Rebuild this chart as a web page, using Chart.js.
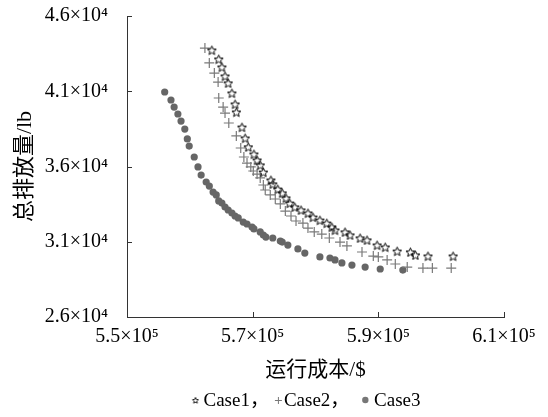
<!DOCTYPE html>
<html>
<head>
<meta charset="utf-8">
<script src="https://cdn.jsdelivr.net/npm/chart.js"></script>
<style>
  html, body { margin: 0; padding: 0; background: #fff; }
</style>
</head>
<body>
<canvas id="pareto_chart" width="548" height="417"></canvas>
<script>
// ---------------- data (运行成本 $, 总排放量 lb) ----------------
const seriesNames = ['Case1', 'Case2', 'Case3'];

const case1Cost = [563500, 564600, 565100, 565600, 566100, 566700, 567200, 567400, 568300, 568800,
    569300, 570200, 570700, 571200, 571700, 572900, 573200, 574000, 574700, 575300,
    575900, 576700, 577700, 578800, 579600, 580700, 581800, 582600, 583100, 584700,
    585500, 587100, 588200, 589800, 591100, 593000, 595100, 595900, 597900, 601900];
const case1Emission = [43740, 43140, 42610, 42010, 41550, 40880, 40150, 39620, 38620, 37890,
    37300, 36830, 36430, 36100, 35630, 35100, 34840, 34500, 34240, 33910,
    33570, 33310, 33110, 32910, 32640, 32440, 32240, 31980, 31780, 31650,
    31450, 31250, 31120, 30780, 30650, 30380, 30320, 30120, 30050, 30050];

const case2Cost = [562400, 563100, 563900, 564500, 564600, 565300, 565600, 566200, 567400, 568100,
    568600, 569100, 569700, 570100, 570700, 571200, 571700, 572000, 572800, 573600,
    574400, 575200, 576100, 576900, 578000, 578800, 579800, 581000, 582200, 583900,
    585000, 587400, 589200, 590000, 591400, 592700, 594600, 597100, 598600, 601600];
const case2Emission = [43870, 42880, 42210, 41610, 40550, 39950, 39550, 38890, 38030, 37230,
    36630, 36230, 35970, 35700, 35500, 35240, 34770, 34440, 34110, 33840,
    33510, 33040, 32710, 32380, 32240, 31910, 31650, 31510, 31250, 30980,
    30720, 30320, 30050, 29990, 29790, 29520, 29320, 29250, 29250, 29250];

const case3Cost = [556000, 557000, 557500, 558100, 558600, 559200, 559600, 559900, 560700, 561300,
    561800, 562600, 563100, 563700, 564200, 564600, 565100, 565600, 566100, 566700,
    567200, 567700, 568500, 569100, 569900, 570200, 571200, 571700, 572100, 573200,
    574400, 574700, 575600, 577200, 578300, 580700, 582300, 583100, 584200, 585800,
    587900, 590300, 593900];
const case3Emission = [40950, 40420, 39950, 39490, 39020, 38490, 37830, 37360, 36630, 35970,
    35430, 34970, 34700, 34300, 34110, 33710, 33570, 33310, 33110, 32910,
    32710, 32580, 32310, 32180, 31980, 31850, 31650, 31450, 31310, 31250,
    31050, 30980, 30780, 30520, 30250, 29990, 29920, 29790, 29590, 29450,
    29320, 29190, 29120];

const xTicks = [550000, 570000, 590000, 610000];
const yTicks = [26000, 31000, 36000, 41000, 46000];

const latinFont = '"Liberation Serif", "Noto Sans CJK SC", serif';

function toPoints(xs, ys) {
    return xs.map((v, i) => ({x: v, y: ys[i]}));
}

// hollow five-point star used as marker for Case1
function makeStar(size, color, lw) {
    const c = document.createElement('canvas');
    c.width = size;
    c.height = size;
    const g = c.getContext('2d');
    const ro = size / 2 - 0.8, ri = ro * 0.45;
    g.beginPath();
    for (let i = 0; i < 10; i++) {
        const r = i % 2 ? ri : ro;
        const a = -Math.PI / 2 + i * Math.PI / 5;
        g.lineTo(size / 2 + r * Math.cos(a), size / 2 + 0.6 + r * Math.sin(a));
    }
    g.closePath();
    g.strokeStyle = color;
    g.lineWidth = lw || 1;
    g.stroke();
    return c;
}

// ticks pointing into the plot
const inwardTicks = {
    id: 'inwardTicks',
    afterDatasetsDraw(chart) {
        const {ctx, scales: {x, y}} = chart;
        ctx.save();
        ctx.strokeStyle = '#333';
        ctx.lineWidth = 1;
        ctx.beginPath();
        x.ticks.forEach((t, i) => {
            const px = Math.round(x.getPixelForTick(i)) + 0.5;
            ctx.moveTo(px, x.top);
            ctx.lineTo(px, x.top - 5);
        });
        y.ticks.forEach((t, i) => {
            const py = Math.round(y.getPixelForTick(i)) + 0.5;
            ctx.moveTo(y.right, py);
            ctx.lineTo(y.right + 5, py);
        });
        ctx.stroke();
        ctx.restore();
    }
};

// one-line legend: ☆Case1，+Case2，● Case3
const legendLine = {
    id: 'legendLine',
    afterDraw(chart) {
        const ctx = chart.ctx;
        const area = chart.chartArea;
        ctx.save();
        ctx.font = '19px ' + latinFont;
        ctx.textBaseline = 'middle';
        const parts = [
            {mark: 'star', gap: 0}, {text: seriesNames[0] + '，', gap: 3},
            {mark: 'plus', gap: 4}, {text: seriesNames[1] + '，', gap: 1},
            {mark: 'dot', gap: 10}, {text: ' ' + seriesNames[2], gap: 0}
        ];
        const markW = 10;
        let total = 0;
        parts.forEach(p => {
            p.w = p.text ? ctx.measureText(p.text).width : markW;
            total += p.w + p.gap;
        });
        let cx = (area.left + area.right) / 2 - 10 - total / 2;
        const cy = chart.height - 17;
        parts.forEach(p => {
            cx += p.gap;
            if (p.text) {
                ctx.fillStyle = '#000';
                ctx.textAlign = 'left';
                ctx.fillText(p.text, cx, cy + 1);
            } else if (p.mark === 'star') {
                const s = makeStar(8, '#222');
                ctx.drawImage(s, cx + 1, cy - 4);
            } else if (p.mark === 'plus') {
                ctx.strokeStyle = '#777';
                ctx.lineWidth = 1;
                ctx.beginPath();
                ctx.moveTo(cx + 2, cy + 0.5); ctx.lineTo(cx + 9, cy + 0.5);
                ctx.moveTo(cx + 5.5, cy - 3); ctx.lineTo(cx + 5.5, cy + 4);
                ctx.stroke();
            } else {
                ctx.fillStyle = '#777';
                ctx.beginPath();
                ctx.arc(cx + 6, cy, 3.2, 0, Math.PI * 2);
                ctx.fill();
            }
            cx += p.w;
        });
        ctx.restore();
    }
};

const ctx = document.getElementById('pareto_chart');

new Chart(ctx, {
    type: 'scatter',
    data: {
        datasets: [{
            label: seriesNames[0],
            data: toPoints(case1Cost, case1Emission),
            pointStyle: makeStar(11, '#000', 1),
            pointRadius: 5
        }, {
            label: seriesNames[1],
            data: toPoints(case2Cost, case2Emission),
            pointStyle: 'cross',
            pointRadius: 5,
            borderColor: '#7a7a7a',
            borderWidth: 1.2
        }, {
            label: seriesNames[2],
            data: toPoints(case3Cost, case3Emission),
            pointStyle: 'circle',
            pointRadius: 3.6,
            backgroundColor: '#666',
            borderWidth: 0
        }]
    },
    options: {
        responsive: false,
        animation: false,
        layout: {padding: {top: 16, right: 44, bottom: 32, left: 0}},
        plugins: {legend: {display: false}, tooltip: {enabled: false}},
        scales: {
            x: {
                type: 'linear',
                min: 550000,
                max: 610000,
                afterBuildTicks: (s) => { s.ticks = xTicks.map(v => ({value: v})); },
                afterFit: (s) => { s.height = 68; },
                grid: {display: true, drawOnChartArea: false, drawTicks: false},
                border: {display: true, color: '#333', width: 1},
                ticks: {
                    padding: 8,
                    color: '#000',
                    font: {family: latinFont, size: 20},
                    callback: (v) => (v / 1e5).toFixed(1) + '×10⁵'
                },
                title: {
                    display: true,
                    text: '运行成本/$',
                    color: '#000',
                    font: {family: latinFont, size: 21},
                    padding: {top: 0, bottom: 2}
                }
            },
            y: {
                type: 'linear',
                min: 26000,
                max: 46000,
                afterBuildTicks: (s) => { s.ticks = yTicks.map(v => ({value: v})); },
                afterFit: (s) => { s.width = 127; s.paddingTop = 0; s.paddingBottom = 0; },
                grid: {display: true, drawOnChartArea: false, drawTicks: false},
                border: {display: true, color: '#333', width: 1},
                ticks: {
                    padding: 19,
                    color: '#000',
                    font: {family: latinFont, size: 20},
                    callback: (v) => (v / 1e4).toFixed(1) + '×10⁴'
                },
                title: {
                    display: true,
                    text: '总排放量/lb',
                    color: '#000',
                    font: {family: latinFont, size: 22},
                    padding: {top: 12, bottom: 0}
                }
            }
        }
    },
    plugins: [inwardTicks, legendLine]
});
</script>
</body>
</html>
